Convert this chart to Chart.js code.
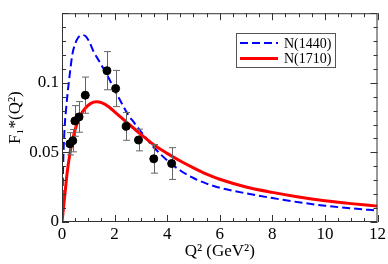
<!DOCTYPE html>
<html>
<head>
<meta charset="utf-8">
<script src="https://cdn.jsdelivr.net/npm/chart.js@4"></script>
<style>
  body { margin: 0; background: #fff; }
  #wrap { width: 388px; height: 264px; }
</style>
</head>
<body>
<div id="wrap"><canvas id="chart-1"></canvas></div>
<script>
// N(1440) curve (blue dashed)
const blueQ2 = [0, 0.05, 0.1, 0.15, 0.2, 0.3, 0.4, 0.5, 0.6, 0.75, 0.9, 1.05, 1.2, 1.4, 1.6, 1.8, 2.0, 2.25, 2.5, 2.75, 3.0, 3.5, 4.0, 4.5, 5, 5.5, 6, 7, 8, 9, 10, 11, 12];
const blueF1 = [0, 0.045, 0.068, 0.080, 0.090, 0.107, 0.121, 0.128, 0.132, 0.1343, 0.1335, 0.129, 0.1225, 0.116, 0.1095, 0.1025, 0.095, 0.086, 0.0775, 0.0712, 0.065, 0.0535, 0.0443, 0.0370, 0.0316, 0.0276, 0.0246, 0.0206, 0.0172, 0.0142, 0.0117, 0.0098, 0.0082];
// N(1710) curve (red solid)
const redQ2 = [0, 0.05, 0.1, 0.2, 0.3, 0.4, 0.55, 0.7, 0.9, 1.1, 1.3, 1.5, 1.8, 2.1, 2.5, 3.0, 3.5, 4.0, 4.5, 5, 5.5, 6, 7, 8, 9, 10, 11, 12];
const redF1 = [0, 0.009, 0.018, 0.036, 0.049, 0.059, 0.0695, 0.0765, 0.082, 0.0852, 0.0863, 0.0857, 0.0825, 0.0775, 0.071, 0.063, 0.0553, 0.0493, 0.0438, 0.0389, 0.0344, 0.0307, 0.0252, 0.0213, 0.0180, 0.0153, 0.0132, 0.0114];
// data with errors
const dataQ2 = [0.30, 0.41, 0.49, 0.65, 0.885, 1.71, 2.04, 2.44, 2.91, 3.49, 4.17];
const dataF1 = [0.0562, 0.0584, 0.0726, 0.0755, 0.0911, 0.1087, 0.0959, 0.0687, 0.0589, 0.0454, 0.042];
const dataErr = [0.008, 0.008, 0.011, 0.011, 0.013, 0.0137, 0.013, 0.010, 0.0078, 0.0103, 0.0114];

const xTicks = [0, 2, 4, 6, 8, 10, 12];
const yTicks = [0, 0.05, 0.1];

const serif = "'Liberation Serif', 'DejaVu Serif', serif";

function toXY(xs, ys) {
  return xs.map((x, i) => ({ x: x, y: ys[i] }));
}

const frameTicks = {
  id: "frameTicks",
  afterDraw: function (chart) {
    const { ctx, chartArea: { top, bottom, left, right }, scales: { x, y } } = chart;
    ctx.save();
    ctx.strokeStyle = "#333";
    ctx.lineWidth = 1;
    ctx.beginPath();
    // x ticks, minor every 0.5
    for (let v = 0; v <= 12.001; v += 0.5) {
      const px = Math.round(x.getPixelForValue(v)) + 0.5;
      const len = Math.abs(v % 2) < 0.001 ? 7 : 4;
      ctx.moveTo(px, bottom); ctx.lineTo(px, bottom - len);
      ctx.moveTo(px, top); ctx.lineTo(px, top + len);
    }
    // y ticks, minor every 0.01
    for (let i = 0; i <= 15; i++) {
      const py = Math.round(y.getPixelForValue(i * 0.01)) + 0.5;
      const len = i % 5 === 0 ? 7 : 4;
      ctx.moveTo(left, py); ctx.lineTo(left + len, py);
      ctx.moveTo(right, py); ctx.lineTo(right - len, py);
    }
    ctx.stroke();
    ctx.strokeRect(left + 0.5, top + 0.5, right - left - 1, bottom - top - 1);

    // legend box
    const bx = 236, by = 33, bw = 99, bh = 34;
    ctx.fillStyle = "#fff";
    ctx.fillRect(bx, by, bw, bh);
    ctx.strokeStyle = "#555";
    ctx.strokeRect(bx + 0.5, by + 0.5, bw, bh);
    const items = [chart.data.datasets[1], chart.data.datasets[2]];
    items.forEach((ds, i) => {
      const ly = by + 10 + i * 15.5;
      ctx.beginPath();
      ctx.strokeStyle = ds.borderColor;
      ctx.lineWidth = ds.borderWidth;
      ctx.setLineDash(ds.borderDash || []);
      ctx.moveTo(bx + 4, ly); ctx.lineTo(bx + 42, ly);
      ctx.stroke();
      ctx.setLineDash([]);
      ctx.fillStyle = "#000";
      ctx.font = "14px " + serif;
      ctx.textBaseline = "middle";
      ctx.fillText(ds.label, bx + 48, ly + 1);
    });
    ctx.restore();
  },
  beforeDatasetDraw: function (chart, args) {
    if (args.index !== 0) return;
    const { ctx, scales: { x, y } } = chart;
    ctx.save();
    ctx.strokeStyle = "#666";
    ctx.lineWidth = 1;
    ctx.beginPath();
    dataQ2.forEach((q, i) => {
      const px = Math.round(x.getPixelForValue(q)) + 0.5;
      const y1 = y.getPixelForValue(dataF1[i] + dataErr[i]);
      const y2 = y.getPixelForValue(dataF1[i] - dataErr[i]);
      ctx.moveTo(px, y1); ctx.lineTo(px, y2);
      ctx.moveTo(px - 3.5, y1); ctx.lineTo(px + 3.5, y1);
      ctx.moveTo(px - 3.5, y2); ctx.lineTo(px + 3.5, y2);
    });
    ctx.stroke();
    ctx.restore();
  },
};

const chart1 = new Chart(document.getElementById("chart-1").getContext("2d"), {
  type: "scatter",
  data: {
    datasets: [
      {
        label: "data",
        data: toXY(dataQ2, dataF1),
        backgroundColor: "#000",
        borderColor: "#000",
        pointRadius: 4,
        order: 0,
      },
      {
        label: "N(1440)",
        data: toXY(blueQ2, blueF1),
        showLine: true,
        borderColor: "#0000ff",
        borderWidth: 2,
        borderDash: [8, 4],
        pointRadius: 0,
        cubicInterpolationMode: "monotone",
        order: 2,
      },
      {
        label: "N(1710)",
        data: toXY(redQ2, redF1),
        showLine: true,
        borderColor: "#ff0000",
        borderWidth: 3,
        pointRadius: 0,
        cubicInterpolationMode: "monotone",
        order: 1,
      },
    ],
  },
  plugins: [frameTicks],
  options: {
    responsive: true,
    maintainAspectRatio: false,
    animation: false,
    layout: { padding: { left: 0, right: 10, top: 2, bottom: 0 } },
    plugins: {
      legend: { display: false },
      tooltip: { enabled: false },
    },
    scales: {
      x: {
        type: "linear",
        min: 0,
        max: 12,
        afterFit: function (scale) { scale.height = 42; },
        afterBuildTicks: function (scale) {
          scale.ticks = xTicks.map((v) => ({ value: v }));
        },
        grid: { display: false, drawTicks: false },
        border: { display: false },
        ticks: {
          color: "#000",
          padding: 2,
          maxRotation: 0,
          font: { family: serif, size: 17 },
        },
        title: {
          display: true,
          text: "Q² (GeV²)",
          color: "#000",
          font: { family: serif, size: 17 },
          padding: { top: 0, bottom: 2 },
        },
      },
      y: {
        type: "linear",
        min: 0,
        max: 0.15,
        afterFit: function (scale) { scale.width = 62; },
        afterBuildTicks: function (scale) {
          scale.ticks = yTicks.map((v) => ({ value: v }));
        },
        grid: { display: false, drawTicks: false },
        border: { display: false },
        ticks: {
          color: "#000",
          padding: 3,
          font: { family: serif, size: 17 },
          callback: function (val) { return String(Math.round(val * 100) / 100); },
        },
        title: {
          display: true,
          text: "F₁*(Q²)",
          color: "#000",
          font: { family: serif, size: 17 },
          padding: { top: 5, bottom: 0 },
        },
      },
    },
  },
});
</script>
</body>
</html>
